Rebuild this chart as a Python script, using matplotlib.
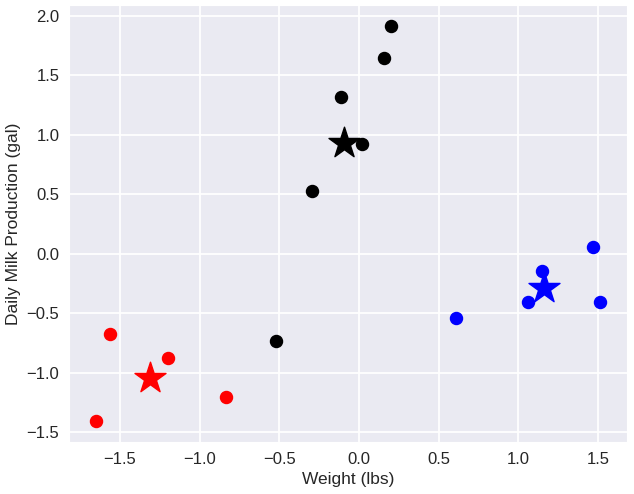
import matplotlib
matplotlib.use("Agg")
import matplotlib.pyplot as plt
import seaborn as sns

sns.set_style("darkgrid")
plt.rcParams['font.family'] = ['Liberation Sans', 'DejaVu Sans']

# cluster members (weight, milk)
black_x = [0.201, 0.157, -0.113, 0.019, -0.295, -0.521]
black_y = [1.915, 1.650, 1.320, 0.920, 0.525, -0.737]
red_x = [-1.561, -1.201, -0.837, -1.651]
red_y = [-0.675, -0.876, -1.209, -1.407]
blue_x = [1.467, 1.151, 1.061, 1.513, 0.607]
blue_y = [0.057, -0.144, -0.407, -0.407, -0.542]

# centroids
centers_x = [-0.092, -1.312, 1.160]
centers_y = [0.932, -1.042, -0.289]
colors = ['black', 'red', 'blue']

fig = plt.figure(figsize=(6.34, 4.94), dpi=100)
ax = fig.add_axes([69/634, 1 - 442/494, 558/634, 437/494])

ax.scatter(black_x, black_y, c='black', s=75, zorder=3)
ax.scatter(red_x, red_y, c='red', s=75, zorder=3)
ax.scatter(blue_x, blue_y, c='blue', s=75, zorder=3)
for cx, cy, col in zip(centers_x, centers_y, colors):
    ax.scatter(cx, cy, c=col, marker='*', s=550, zorder=4)

ax.set_xlim(-1.82, 1.682)
ax.set_ylim(-1.584, 2.092)
ax.grid(color='white', linewidth=1.3)
ax.tick_params(labelsize=12, colors='#262626')
ax.set_xlabel('Weight (lbs)', fontsize=12.5, color='#262626')
ax.set_ylabel('Daily Milk Production (gal)', fontsize=12.5, color='#262626')

plt.savefig('out.png')
